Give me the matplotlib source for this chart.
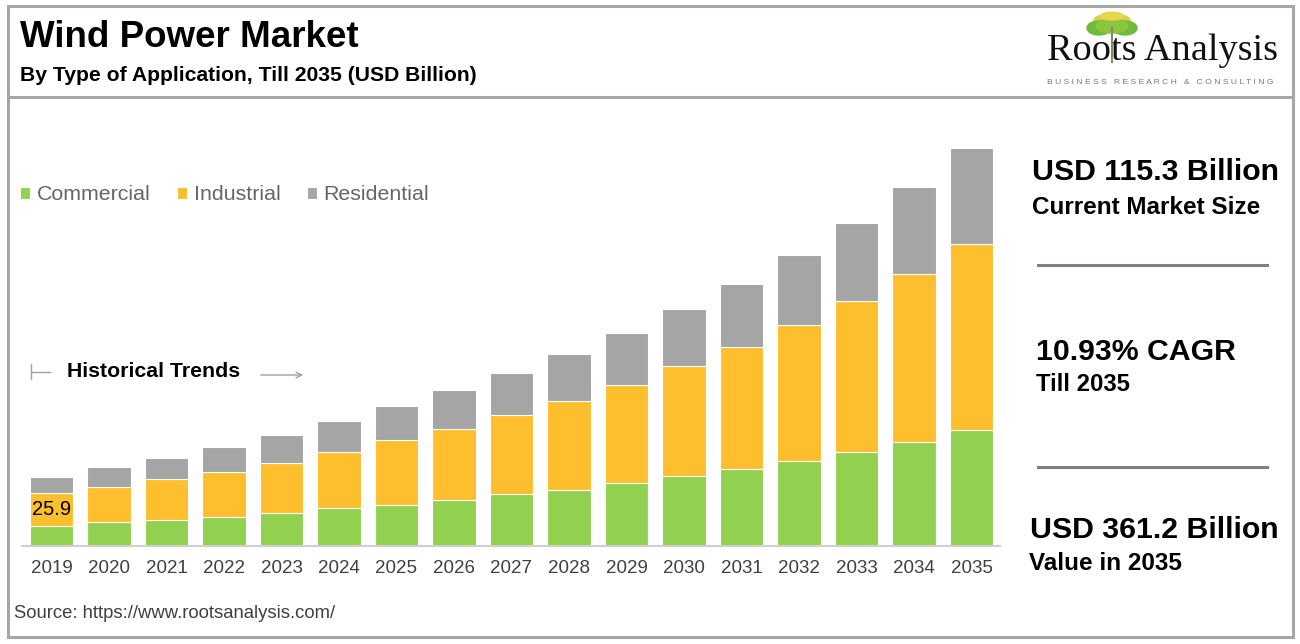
import matplotlib
matplotlib.use("Agg")
import matplotlib.pyplot as plt
from matplotlib.patches import Rectangle, Ellipse
import numpy as np

plt.rcParams['font.family'] = ['Liberation Sans', 'DejaVu Sans']

# ---------------- data ----------------
years = ['2019', '2020', '2021', '2022', '2023', '2024', '2025', '2026', '2027',
         '2028', '2029', '2030', '2031', '2032', '2033', '2034', '2035']
commercial = [18.1, 21.8, 23.6, 26.6, 30.2, 34.2, 37.2, 41.4, 46.9,
              50.8, 57.4, 63.5, 69.8, 77.1, 85.5, 94.6, 105.2]
industrial = [29.7, 32.0, 36.9, 40.8, 45.3, 51.3, 58.9, 64.9, 71.9,
              80.7, 88.6, 99.5, 110.6, 123.3, 136.7, 151.8, 168.4]
residential = [15.1, 17.6, 19.0, 22.7, 25.1, 27.8, 30.8, 35.1, 38.4,
               42.4, 46.9, 51.7, 57.1, 63.5, 71.0, 78.9, 87.6]
series_names = ['Commercial', 'Industrial', 'Residential']
series_colors = ['#92D050', '#FDBF2D', '#A5A5A5']
label_2019_industrial = '25.9'

title = 'Wind Power Market'
subtitle = 'By Type of Application, Till 2035 (USD Billion)'
kpi_big = ['USD 115.3 Billion', '10.93% CAGR', 'USD 361.2 Billion']
kpi_small = ['Current Market Size', 'Till 2035', 'Value in 2035']
source = 'Source: https://www.rootsanalysis.com/'

W, H = 1300, 644
fig = plt.figure(figsize=(W / 100, H / 100), dpi=100)
fig.patch.set_facecolor('white')

# overlay axes in pixel coordinates
ov = fig.add_axes([0, 0, 1, 1])
ov.set_xlim(0, W)
ov.set_ylim(H, 0)
ov.axis('off')

border = '#A6A6A6'
ov.add_patch(Rectangle((8, 6), 1285, 631, fill=False, ec=border, lw=2.2))
ov.plot([8, 1293], [97, 97], color=border, lw=2.2)

ov.text(20, 37, title, fontsize=26.5, fontweight='bold', va='center', ha='left', color='black')
ov.text(20, 75, subtitle, fontsize=15.2, fontweight='bold', va='center', ha='left', color='black')

# logo
ov.text(1047, 51, 'Roots Analysis', family=['Liberation Serif', 'DejaVu Serif'],
        fontsize=27.5, va='center', ha='left', color='#111111')
ov.text(1160, 82, ' '.join('BUSINESS RESEARCH & CONSULTING'), fontsize=6.1,
        va='center', ha='center', color='#777777')
# tree
ov.plot([1112, 1112], [28, 62], color='#8a8a6a', lw=1.5, zorder=3)
for (cx, cy, w, h, c) in [(1112, 20, 36, 12, '#d8d24a'), (1099, 28, 24, 14, '#6dbb3a'),
                          (1125, 28, 24, 14, '#6dbb3a'), (1112, 26, 32, 14, '#8cc63f'),
                          (1112, 16, 22, 8, '#e5d74c')]:
    ov.add_patch(Ellipse((cx, cy), w, h, color=c, zorder=2))

# right panel
ov.text(1032, 172, kpi_big[0], fontsize=21.8, fontweight='bold', va='center', ha='left')
ov.text(1032, 207, kpi_small[0], fontsize=17.5, fontweight='bold', va='center', ha='left')
ov.plot([1038, 1267], [265, 265], color='#808080', lw=2.2)
ov.text(1036, 352, kpi_big[1], fontsize=21.8, fontweight='bold', va='center', ha='left')
ov.text(1036, 384, kpi_small[1], fontsize=17.2, fontweight='bold', va='center', ha='left')
ov.plot([1038, 1267], [467, 467], color='#808080', lw=2.2)
ov.text(1030, 530, kpi_big[2], fontsize=21.8, fontweight='bold', va='center', ha='left')
ov.text(1029, 563, kpi_small[2], fontsize=17.5, fontweight='bold', va='center', ha='left')

ov.text(14, 614, source, fontsize=13.3, va='center', ha='left', color='#404040')

# historical trends
ov.plot([31, 31], [364, 379], color='#A0A0A0', lw=1)
ov.plot([31, 50], [372, 372], color='#A0A0A0', lw=1)
ov.text(67, 371, 'Historical Trends', fontsize=15.3, fontweight='bold', va='center', ha='left')
ov.annotate('', xy=(306, 375), xytext=(258, 375),
            arrowprops=dict(arrowstyle='->', color='#A0A0A0', lw=1))

# ---------------- bar chart ----------------
base_px, top_px = 546, 140
left_px, right_px = 22, 1000
ax = fig.add_axes([left_px / W, (H - base_px) / H, (right_px - left_px) / W, (base_px - top_px) / H])
ax.set_facecolor('none')
x = np.arange(len(years))
bottom = np.zeros(len(years))
for vals, name, col in zip([commercial, industrial, residential], series_names, series_colors):
    ax.bar(x, vals, width=0.75, bottom=bottom, color=col, edgecolor='white',
           linewidth=0.8, label=name)
    bottom = bottom + np.array(vals)

ax.set_xlim(-0.513, 16.496)
ax.set_ylim(0, (base_px - top_px) / 1.1027)
for s in ['top', 'right', 'left']:
    ax.spines[s].set_visible(False)
ax.spines['bottom'].set_color('#D0D0D0')
ax.spines['bottom'].set_linewidth(1.5)
ax.set_yticks([])
ax.set_xticks(x)
ax.set_xticklabels(years, fontsize=13.5, color='#404040')
ax.tick_params(axis='x', length=0, pad=10)

ax.text(0, commercial[0] + industrial[0] / 2, label_2019_industrial, fontsize=14.5,
        ha='center', va='center', color='black')

leg = ax.legend(loc='center left', bbox_to_anchor=(1 / W, 1 - 195 / H),
                bbox_transform=fig.transFigure, ncol=3, frameon=False,
                handlelength=0.47, handleheight=0.47, handletextpad=0.3,
                columnspacing=1.25, fontsize=15.4, labelcolor='#666666')

fig.savefig('out.png', dpi=100, facecolor='white')
